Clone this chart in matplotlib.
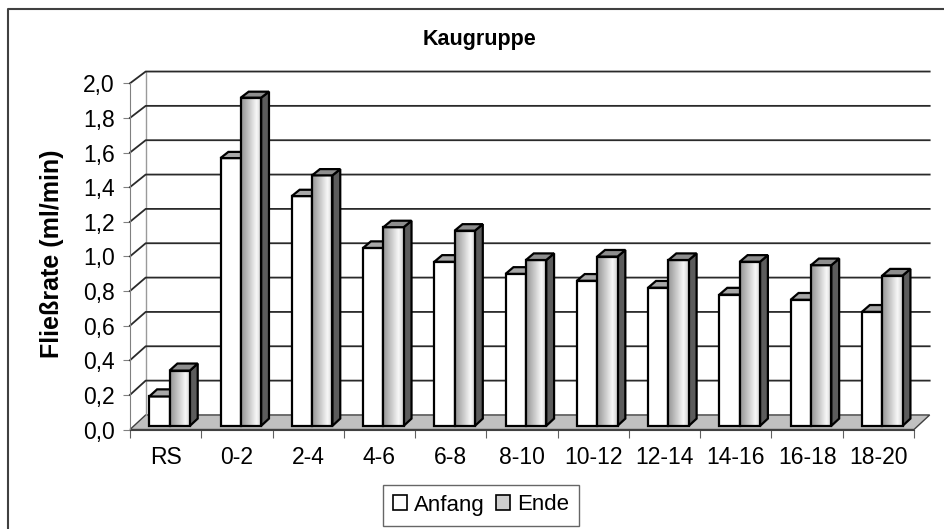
import matplotlib.pyplot as plt
import numpy as np
from matplotlib.patches import Polygon, Patch
from matplotlib.lines import Line2D

plt.rcParams['font.family'] = ['Liberation Sans', 'DejaVu Sans']

categories = ["RS", "0-2", "2-4", "4-6", "6-8", "8-10", "10-12", "12-14", "14-16", "16-18", "18-20"]
anfang = [0.17, 1.55, 1.33, 1.03, 0.95, 0.88, 0.84, 0.80, 0.76, 0.73, 0.66]
ende = [0.32, 1.90, 1.45, 1.15, 1.13, 0.96, 0.98, 0.96, 0.95, 0.93, 0.87]
yticks = [0.0, 0.2, 0.4, 0.6, 0.8, 1.0, 1.2, 1.4, 1.6, 1.8, 2.0]
ytick_labels = ["0,0", "0,2", "0,4", "0,6", "0,8", "1,0", "1,2", "1,4", "1,6", "1,8", "2,0"]

# fake 3d: shift into depth d (0 = front, 1 = back wall)
DX = 0.22
DY0 = 0.084
SHRINK = 0.008


def proj(x, v, d):
    return (x + DX * d, v * (1 - SHRINK * d) + DY0 * d)


fig = plt.figure(figsize=(9.44, 5.29), dpi=100)
ax = fig.add_axes([130 / 944, 1 - 429.5 / 529, 784 / 944, 346.2 / 529])
ax.patch.set_visible(False)
n = len(categories)

# floor
floor = Polygon([proj(0, 0, 0), proj(n, 0, 0), proj(n, 0, 1), proj(0, 0, 1)],
                closed=True, facecolor="#c0c0c0", edgecolor="#404040", lw=1,
                clip_on=False, zorder=1)
ax.add_patch(floor)

# back wall left edge
bx, by0 = proj(0, 0, 1)
_, by1 = proj(0, 2.0, 1)
ax.plot([bx, bx], [by0, by1], color="#9a9a9a", lw=1, clip_on=False, zorder=1.5)

# gridlines
for v in yticks[1:]:
    p0 = proj(0, v, 0)
    p1 = proj(0, v, 1)
    p2 = proj(n, v, 1)
    ax.plot([p0[0], p1[0], p2[0]], [p0[1], p1[1], p2[1]], color="#2a2a2a",
            lw=1.3, clip_on=False, zorder=2)

w = 0.285
d0, d1 = 0.25, 0.75
grad_pos = [0.0, 0.75, 1.0]
grad_val = [0.58, 0.97, 0.80]
grad = np.interp(np.linspace(0, 1, 64), grad_pos, grad_val).reshape(1, -1)

z = 3
for i in range(n):
    for series, vals in (("Anfang", anfang), ("Ende", ende)):
        v = vals[i]
        x0 = i + 0.5 - w if series == "Anfang" else i + 0.5
        x1 = x0 + w
        front = [proj(x0, 0, d0), proj(x1, 0, d0), proj(x1, v, d0), proj(x0, v, d0)]
        side = [proj(x1, 0, d0), proj(x1, 0, d1), proj(x1, v, d1), proj(x1, v, d0)]
        top = [proj(x0, v, d0), proj(x1, v, d0), proj(x1, v, d1), proj(x0, v, d1)]
        if series == "Anfang":
            ax.add_patch(Polygon(side, facecolor="#808080", edgecolor="black", lw=1.6,
                                 joinstyle="miter", clip_on=False, zorder=z))
            ax.add_patch(Polygon(front, facecolor="white", edgecolor="black", lw=1.6,
                                 joinstyle="miter", clip_on=False, zorder=z + 0.1))
            ax.add_patch(Polygon(top, facecolor="#a8a8a8", edgecolor="black", lw=1.6,
                                 joinstyle="miter", clip_on=False, zorder=z + 0.2))
        else:
            ax.add_patch(Polygon(side, facecolor="#5c5c5c", edgecolor="black", lw=1.6,
                                 joinstyle="miter", clip_on=False, zorder=z))
            im = ax.imshow(grad, cmap="gray", vmin=0, vmax=1, aspect="auto",
                           extent=[front[0][0], front[1][0], front[0][1], front[2][1]],
                           interpolation="bilinear", zorder=z + 0.05)
            im.set_clip_on(False)
            ax.add_patch(Polygon(front, fill=False, edgecolor="black", lw=1.6,
                                 joinstyle="miter", clip_on=False, zorder=z + 0.1))
            ax.add_patch(Polygon(top, facecolor="#8e8e8e", edgecolor="black", lw=1.6,
                                 joinstyle="miter", clip_on=False, zorder=z + 0.2))
        z += 1

ax.set_xlim(0, n)
ax.set_ylim(0, 2.0)

for s in ("top", "right"):
    ax.spines[s].set_visible(False)
ax.spines["left"].set_color("#808080")
ax.spines["bottom"].set_color("#404040")
ax.spines["left"].set_zorder(2.5)

ax.set_yticks(yticks)
ax.set_yticklabels(ytick_labels)
ax.tick_params(axis="y", length=5, color="#808080", labelsize=16.5, pad=6)
ax.set_xticks(np.arange(n + 1))
ax.set_xticklabels([])
ax.set_xticks(np.arange(n) + 0.5, minor=True)
ax.set_xticklabels(categories, minor=True)
ax.tick_params(axis="x", which="major", length=6, color="#606060")
ax.tick_params(axis="x", which="minor", length=0, labelsize=16.5, pad=12)

fig.text(479 / 944, 1 - 39 / 529, "Kaugruppe", fontsize=15.5, fontweight="bold",
         ha="center", va="center")
fig.text(52 / 944, 1 - 254 / 529, "Fließrate (ml/min)", fontsize=18,
         fontweight="bold", rotation=90, ha="center", va="center")

handles = [Patch(facecolor="white", edgecolor="black", lw=1.2),
           Patch(facecolor="#cfcfcf", edgecolor="black", lw=1.2)]
leg = fig.legend(handles, ["Anfang", "Ende"], loc="center",
                 bbox_to_anchor=(481 / 944, 1 - 505 / 529), ncol=2, frameon=True,
                 fancybox=False, edgecolor="#404040", fontsize=16,
                 handlelength=0.65, handleheight=0.65, handletextpad=0.3,
                 columnspacing=0.5, borderpad=0.45)
leg.get_frame().set_linewidth(1.0)

# outer chart border (only left and top edges are visible)
fig.add_artist(Line2D([8 / 944, 8 / 944, 1.0], [0, 1 - 9 / 529, 1 - 9 / 529],
                      transform=fig.transFigure, color="#404040", lw=1.5))

fig.savefig("out.png", dpi=100)
